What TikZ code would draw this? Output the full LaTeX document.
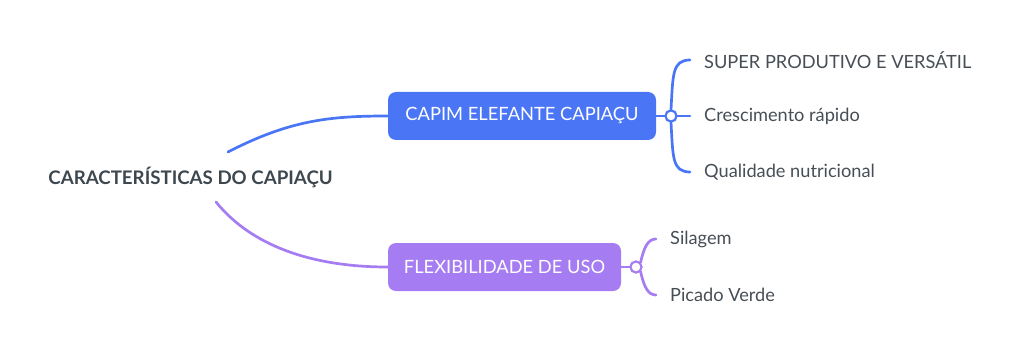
\documentclass[tikz,border=0pt]{standalone}
\usepackage{fontspec}
\setmainfont{Lato}
\definecolor{cblue}{HTML}{4A76F6}
\definecolor{cpurple}{HTML}{A57CF1}
\definecolor{croot}{HTML}{3D474F}
\definecolor{cchild}{HTML}{474E55}
\begin{document}
\begin{tikzpicture}[x=1pt,y=-1pt,
  rootnode/.style={font=\fontsize{18.7}{22}\selectfont\bfseries, text=croot, inner sep=0pt},
  boxnode/.style={rounded corners=8pt, minimum height=48pt, inner sep=0pt, text=white, font=\fontsize{18.3}{22}\selectfont},
  childnode/.style={anchor=west, inner xsep=14pt, inner ysep=0pt, text=cchild, font=\fontsize{18.2}{22}\selectfont},
  joint/.style={circle, draw, line width=2pt, fill=white, minimum size=11pt, inner sep=0pt},
  link/.style={line width=2.7pt, line cap=round}
]
\useasboundingbox (0,0) rectangle (1024,355);
\node[rootnode] (root) at (190.5,177) {CARACTERÍSTICAS DO CAPIAÇU};
\coordinate (rb) at (228,152);
\coordinate (rp) at (216,202);
\node[boxnode, fill=cblue, minimum width=268pt] (b1) at (522,116) {CAPIM ELEFANTE CAPIAÇU};
\node[boxnode, fill=cpurple, minimum width=233pt] (b2) at (504.5,267) {FLEXIBILIDADE DE USO};
\node[childnode] (c1) at (690,60) {SUPER PRODUTIVO E VERSÁTIL};
\node[childnode] (c2) at (690,116) {Crescimento rápido};
\node[childnode] (c3) at (690,172) {Qualidade nutricional};
\node[childnode] (d1) at (656,239) {Silagem};
\node[childnode] (d2) at (656,295) {Picado Verde};
% main connectors
\draw[link, cblue] (rb) .. controls (290,120) and (330,116) .. (b1.west);
\draw[link, cpurple] (rp) .. controls (255,250) and (320,267) .. (b2.west);
% blue brace
\node[joint, draw=cblue] (j1) at (671,116) {};
\draw[link, cblue] (b1.east) -- (j1.west);
\draw[link, cblue] (j1.east) -- (c2.west);
\draw[link, cblue] (j1.north) .. controls (673,75) and (672,60) .. (c1.west);
\draw[link, cblue] (j1.south) .. controls (673,157) and (672,172) .. (c3.west);
\node[joint, draw=cblue] at (671,116) {};
% purple brace
\node[joint, draw=cpurple] (j2) at (636,267) {};
\draw[link, cpurple] (b2.east) -- (j2.west);
\draw[link, cpurple] (j2.north east) .. controls (644,247) and (648,239) .. (d1.west);
\draw[link, cpurple] (j2.south east) .. controls (644,287) and (648,295) .. (d2.west);
\node[joint, draw=cpurple] at (636,267) {};
\end{tikzpicture}
\end{document}
